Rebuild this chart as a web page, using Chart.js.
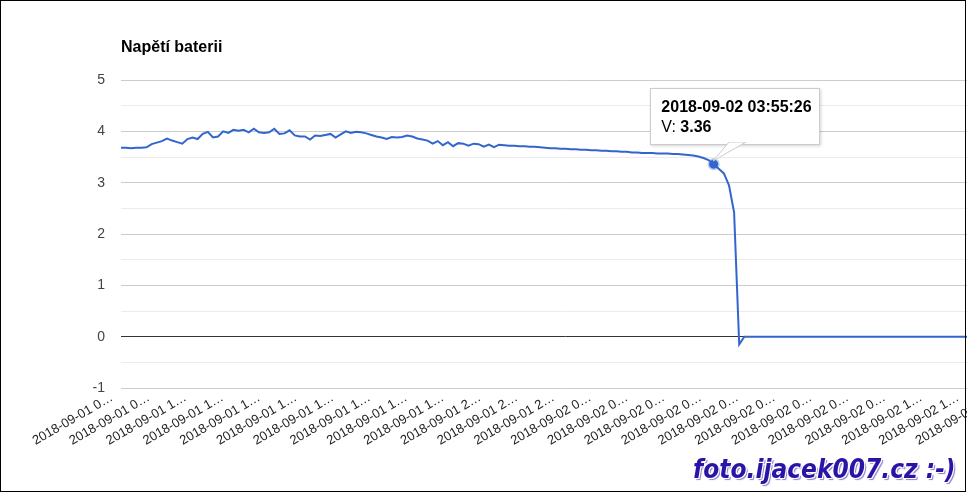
<!DOCTYPE html>
<html>
<head>
<meta charset="utf-8">
<script src="https://cdn.jsdelivr.net/npm/chart.js@4"></script>
<style>
  html, body { margin: 0; padding: 0; background: #fff; }
  #frame { position: relative; width: 967px; height: 493px; overflow: hidden; font-family: Arial, "Liberation Sans", sans-serif; }
  #wrap { position: absolute; left: 0; top: 0; width: 1011px; height: 493px; }
  #border { position: absolute; left: 0; top: 0; width: 966px; height: 492px; box-sizing: border-box; border: 1px solid #000; pointer-events: none; z-index: 5; }
  #title { position: absolute; left: 121px; top: 39px; font-weight: bold; font-size: 16px; line-height: 1; color: #000; }
  #tip { position: absolute; display: none; background: #fff; border: 1px solid #ccc; box-shadow: 1px 1px 3px rgba(0,0,0,0.18); padding: 8px 10px 0 10px; box-sizing: border-box; width: 170px; height: 57px; font-size: 16px; line-height: 20px; color: #000; white-space: nowrap; z-index: 3; }
  #tip b { font-weight: bold; }
  #callout { position: absolute; display: none; z-index: 4; overflow: visible; }
  #mark { position: absolute; left: 693px; top: 454px; white-space: nowrap; font-family: "DejaVu Sans Condensed", "DejaVu Sans", sans-serif; font-stretch: condensed; font-weight: bold; font-style: italic; font-size: 26px; color: #2a14a6; z-index: 6;
    text-shadow: 1px 1px 0 #fff, -1px -1px 0 #fff, 1px -1px 0 #fff, -1px 1px 0 #fff, 2px 2px 1px #8a80c8; }
</style>
</head>
<body>
<div id="frame">
  <div id="wrap"><canvas id="chartdiv" width="1011" height="493"></canvas></div>
  <div id="title">Napětí baterii</div>
  <div id="tip"></div>
  <svg id="callout" width="60" height="40"></svg>
  <div id="mark">foto.ijacek007.cz :-)</div>
  <div id="border"></div>
</div>
<script>
// samples every 10 minutes starting 2018-09-01 08:35:26
const startTime = [2018, 9, 1, 8, 35, 26];
const stepMinutes = 10;
const seriesName = 'V';

const volts = [
  3.68, 3.68, 3.67, 3.68, 3.68, 3.69, 3.75, 3.78, 3.81, 3.86,
  3.82, 3.79, 3.76, 3.85, 3.88, 3.85, 3.95, 3.99, 3.88, 3.90,
  4.00, 3.97, 4.03, 4.01, 4.03, 3.98, 4.05, 3.98, 3.97, 3.98,
  4.05, 3.95, 3.96, 4.02, 3.92, 3.90, 3.90, 3.84, 3.92, 3.91,
  3.93, 3.95, 3.88, 3.94, 4.00, 3.97, 3.99, 3.98, 3.96, 3.93,
  3.90, 3.88, 3.85, 3.89, 3.88, 3.89, 3.92, 3.90, 3.86, 3.84,
  3.82, 3.76, 3.81, 3.73, 3.79, 3.71, 3.77, 3.76, 3.72, 3.76,
  3.75, 3.70, 3.74, 3.69, 3.74, 3.73, 3.72, 3.72, 3.71, 3.71,
  3.70, 3.70, 3.69, 3.68, 3.67, 3.67, 3.66, 3.66, 3.65, 3.65,
  3.64, 3.64, 3.63, 3.63, 3.62, 3.62, 3.61, 3.61, 3.60, 3.60,
  3.59, 3.59, 3.58, 3.58, 3.58, 3.57, 3.57, 3.57, 3.56, 3.56,
  3.55, 3.54, 3.53, 3.51, 3.48, 3.44, 3.36, 3.27, 3.18, 2.95,
  2.42, -0.15, 0, 0, 0, 0, 0, 0, 0, 0,
  0, 0, 0, 0, 0, 0, 0, 0, 0, 0,
  0, 0, 0, 0, 0, 0, 0, 0, 0, 0,
  0, 0, 0, 0, 0, 0, 0, 0, 0, 0,
  0, 0, 0, 0, 0, 0, 0, 0, 0, 0,
  0, 0, 0, 0, 0
];

// x axis labels, one every 72 minutes (truncated like the original)
const tickEvery = 72;
const tickLabels = [
  '2018-09-01 0…', '2018-09-01 0…', '2018-09-01 1…', '2018-09-01 1…', '2018-09-01 1…',
  '2018-09-01 1…', '2018-09-01 1…', '2018-09-01 1…', '2018-09-01 1…', '2018-09-01 1…',
  '2018-09-01 2…', '2018-09-01 2…', '2018-09-01 2…', '2018-09-02 0…', '2018-09-02 0…',
  '2018-09-02 0…', '2018-09-02 0…', '2018-09-02 0…', '2018-09-02 0…', '2018-09-02 0…',
  '2018-09-02 0…', '2018-09-02 0…', '2018-09-02 1…', '2018-09-02 1…', '2018-09-02 1…'
];

const yTicks = [-1, 0, 1, 2, 3, 4, 5];
const activeIndex = 116;

function pad(n) { return String(n).padStart(2, '0'); }

function stampFor(minutes) {
  const d = new Date(Date.UTC(startTime[0], startTime[1] - 1, startTime[2], startTime[3], startTime[4], startTime[5]) + minutes * 60000);
  return d.getUTCFullYear() + '-' + pad(d.getUTCMonth() + 1) + '-' + pad(d.getUTCDate()) + ' ' +
    pad(d.getUTCHours()) + ':' + pad(d.getUTCMinutes()) + ':' + pad(d.getUTCSeconds());
}

const points = volts.map((v, i) => ({ x: i * stepMinutes, y: v }));

function externalTip(context) {
  const tooltip = context.tooltip;
  const tip = document.getElementById('tip');
  const callout = document.getElementById('callout');
  if (!tooltip || tooltip.opacity === 0 || !tooltip.dataPoints || !tooltip.dataPoints.length) {
    tip.style.display = 'none';
    callout.style.display = 'none';
    return;
  }
  const dp = tooltip.dataPoints[0];
  const cx = tooltip.caretX, cy = tooltip.caretY;
  tip.innerHTML = '<b>' + stampFor(dp.parsed.x) + '</b><br>' + seriesName + ': <b>' + dp.parsed.y.toFixed(2) + '</b>';
  tip.style.left = (cx - 64) + 'px';
  tip.style.top = (cy - 76) + 'px';
  tip.style.display = 'block';
  // little pointer from the box down to the point
  const bx = cx - 4, by = cy - 22;
  callout.style.left = bx + 'px';
  callout.style.top = by + 'px';
  callout.innerHTML = '<polygon points="19,0 36,0 3,19" fill="#fff" stroke="#ccc" stroke-width="1"/>' +
    '<rect x="18" y="-2" width="19" height="2" fill="#fff"/>';
  callout.style.display = 'block';
}

const chart = new Chart(document.getElementById('chartdiv'), {
  type: 'line',
  data: {
    datasets: [{
      label: seriesName,
      data: points,
      borderColor: '#3366cc',
      backgroundColor: '#3366cc',
      borderWidth: 2,
      pointRadius: 0,
      pointHoverRadius: 4.5,
      pointHoverBackgroundColor: '#3366cc',
      pointHoverBorderColor: 'rgba(51,102,204,0.35)',
      pointHoverBorderWidth: 3,
      tension: 0
    }]
  },
  options: {
    responsive: false,
    animation: false,
    events: [],
    layout: { padding: { top: 80, left: 0, right: 0, bottom: 0 } },
    plugins: {
      legend: { display: false },
      title: { display: false },
      tooltip: { enabled: false, external: externalTip, mode: 'nearest', intersect: false }
    },
    scales: {
      x: {
        type: 'linear',
        min: 0,
        max: (volts.length - 1) * stepMinutes,
        grid: { display: false },
        border: { display: false },
        afterFit: (scale) => { scale.height = 105; },
        afterBuildTicks: (scale) => {
          scale.ticks = tickLabels.map((_, k) => ({ value: k * tickEvery }));
        },
        ticks: {
          autoSkip: false,
          minRotation: 30,
          maxRotation: 30,
          padding: -6,
          labelOffset: -9,
          color: '#222',
          font: { family: 'Arial, "Liberation Sans", sans-serif', size: 13 },
          callback: (v, i) => tickLabels[i]
        }
      },
      y: {
        min: -1,
        max: 5,
        afterFit: (scale) => { scale.width = 121; },
        afterBuildTicks: (scale) => {
          const t = [];
          yTicks.forEach((v, i) => {
            t.push({ value: v });
            if (i < yTicks.length - 1) t.push({ value: v + 0.5 });
          });
          scale.ticks = t;
        },
        border: { display: false },
        grid: {
          drawTicks: false,
          color: (ctx) => {
            const v = ctx.tick.value;
            if (v === 0) return '#333';
            return Number.isInteger(v) ? '#cccccc' : '#ebebeb';
          }
        },
        ticks: {
          padding: 16,
          color: '#444',
          font: { family: 'Arial, "Liberation Sans", sans-serif', size: 14 },
          callback: (v) => Number.isInteger(v) ? String(v) : ''
        }
      }
    }
  }
});

const meta = chart.getDatasetMeta(0);
const el = meta.data[activeIndex];
chart.setActiveElements([{ datasetIndex: 0, index: activeIndex }]);
chart.tooltip.setActiveElements([{ datasetIndex: 0, index: activeIndex }], { x: el.x, y: el.y });
chart.update();
</script>
</body>
</html>
